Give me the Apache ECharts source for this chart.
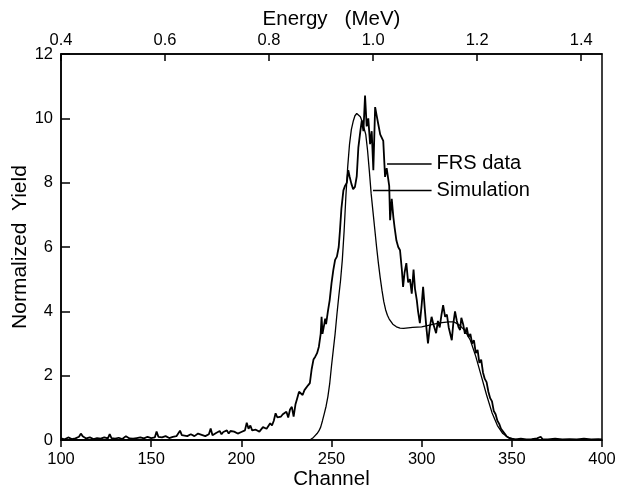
<!DOCTYPE html>
<html>
<head>
<meta charset="utf-8">
<script src="https://cdn.jsdelivr.net/npm/echarts@6/dist/echarts.min.js"></script>
<style>
html,body{margin:0;padding:0;background:#fff;}
#chart{width:619px;height:489px;}
</style>
</head>
<body>
<div id="chart"></div>
<script>
// ---- Data ----
var frsChannel = [100,102,104,106,108,110,111,112,114,116,118,120,122,124,126,127,128,130,132,134,136,137,138,140,142,144,146,148,150,152,153,154,156,158,160,162,164,166,167,168,170,172,174,176,177,178,180,182,183,184,186,188,189,190,192,193,194,196,197,198,200,202,203,204,205,206,208,210,212,214,216,217,218,219,220,222,223,225,226,227,228,229,230,231,232,233,234,235,236,237,238,239,240,241,242,243,244,244.5,245,246,246.5,247,248,249,250,251,252,253,254,254.7,255.5,256.6,257.5,258.5,259.3,260,261,262,263,264,264.9,266,266.8,267.7,268.6,269.5,270.4,271.4,272.3,273.2,274.2,275,276,277,277.8,278.7,279.7,280.6,281.6,282,282.5,283.4,284.3,285,286,287,288,289,289.7,290.5,291.5,292.5,293.5,294.5,295.5,296.3,297.3,298,299,300,300.8,301.7,302.6,303.5,304.5,305.5,306.5,308,309,310,311,311.9,313,314,315,316.7,317.5,318.5,319.5,320.5,321.3,322,323,324,325,326,327,328,329,330,331,332,333,334,335,336,337,338,339,340,341,342,343,344,345,346,347,348,349,350,352,355,358,361,364,366,367,370,374,378,382,386,390,394,398,400];
var frsYield = [0.05,0.02,0.08,0.03,0.05,0.1,0.2,0.12,0.05,0.08,0.03,0.06,0.04,0.08,0.05,0.18,0.06,0.04,0.07,0.03,0.12,0.18,0.05,0.04,0.06,0.08,0.05,0.1,0.06,0.08,0.26,0.1,0.08,0.12,0.06,0.1,0.12,0.29,0.15,0.1,0.12,0.18,0.12,0.2,0.14,0.16,0.12,0.18,0.36,0.15,0.22,0.28,0.18,0.25,0.3,0.2,0.28,0.26,0.32,0.2,0.25,0.3,0.54,0.35,0.45,0.3,0.32,0.26,0.4,0.35,0.52,0.45,0.6,0.83,0.7,0.73,0.8,0.88,0.7,0.95,1.03,0.73,1.1,1.3,1.5,1.45,1.4,1.55,1.6,1.7,1.77,2.2,2.5,2.59,2.7,2.9,3.3,3.83,3.3,3.6,3.77,3.6,4.0,4.35,4.87,5.28,5.6,5.7,6.0,6.52,7.2,7.76,7.9,8.0,8.39,8.2,7.97,7.8,7.87,8.2,9.1,9.6,9.94,9.6,10.71,9.75,10.0,9.2,9.6,8.39,10.35,10.1,9.8,9.5,9.55,9.3,8.18,8.45,8.39,7.9,6.83,7.5,6.93,6.6,6.2,6.0,5.9,5.3,4.76,5.2,5.5,4.9,5.0,4.55,5.3,4.7,4.35,4.0,3.63,4.2,4.76,4.1,3.5,3.0,3.5,3.83,3.6,3.32,3.7,3.5,3.9,4.19,3.83,3.9,3.5,3.1,3.6,4.0,3.7,3.5,3.42,3.8,3.6,3.3,3.5,3.2,3.3,3.0,3.1,2.7,2.8,2.4,2.5,2.1,1.9,1.8,1.5,1.3,1.2,0.9,0.8,0.6,0.5,0.35,0.3,0.2,0.12,0.08,0.05,0.03,0.02,0.04,0.02,0.03,0.05,0.1,0.03,0.02,0.04,0.02,0.03,0.02,0.04,0.02,0.03,0.02];

var simChannel = [100,150,200,238,239,240,241,242,243,244,245,246,247,248,249,250,251,252,253,254,255,256,257,258,259,260,261,262,263,264,265,266,267,268,269,270,271,272,273,274,275,276,277,278,279,280,281,282,284,286,288,290,295,300,305,310,315,318,321,324,327,330,333,336,339,342,345,348,351,354,370,400];
var simYield = [0,0,0,0,0.04,0.08,0.14,0.2,0.28,0.4,0.6,0.82,1.05,1.35,1.75,2.3,2.8,3.3,3.9,4.45,4.95,5.6,6.5,7.6,8.5,9.2,9.65,9.9,10.08,10.15,10.12,10.05,9.9,9.7,9.5,9.0,8.35,7.65,7.1,6.55,6.0,5.5,5.05,4.65,4.3,4.05,3.88,3.76,3.6,3.52,3.48,3.47,3.5,3.52,3.58,3.64,3.67,3.67,3.57,3.4,3.1,2.6,2.0,1.4,0.85,0.45,0.2,0.08,0.03,0,0,0];

var channelTicks = [100,150,200,250,300,350,400];
var energyTicks = [0.4,0.6,0.8,1.0,1.2,1.4];
var yieldTicks = [0,2,4,6,8,10,12];

// label leader lines (data coordinates: channel, yield)
var frsLeader = [[280.8, 8.6],[305.5, 8.6]];
var simLeader = [[273.0, 7.75],[305.5, 7.75]];
var frsLabel = 'FRS data';
var simLabel = 'Simulation';

function zip(a,b){ var r=[]; for(var i=0;i<a.length;i++) r.push([a[i],b[i]]); return r; }

var FONT = '"Liberation Sans", Arial, Helvetica, sans-serif';
var chart = echarts.init(document.getElementById('chart'), null, {renderer:'canvas'});
var axisCommon = {
  axisLine:{show:true, lineStyle:{color:'#000', width:1.5}},
  splitLine:{show:false},
  nameMoveOverlap:false,
  nameTextStyle:{color:'#000', fontSize:20.5, fontFamily:FONT}
};
function merge(a,b){ var o={}; for(var k in a) o[k]=a[k]; for(var k2 in b) o[k2]=b[k2]; return o; }

var option = {
  animation:false,
  backgroundColor:'#fff',
  grid:{left:61, right:17, top:54, bottom:49, containLabel:false, outerBoundsMode:'none',
        show:true, borderColor:'#000', borderWidth:1.5, backgroundColor:'transparent'},
  xAxis:[
    merge(axisCommon, {
      type:'value', position:'bottom', min:channelTicks[0], max:channelTicks[channelTicks.length-1], interval:50,
      name:'Channel', nameLocation:'middle', nameGap:29,
      axisTick:{show:true, inside:false, length:7, lineStyle:{color:'#000', width:1.5}},
      axisLabel:{color:'#000', fontSize:16.5, fontFamily:FONT, margin:11}
    }),
    merge(axisCommon, {
      type:'value', position:'top', min:energyTicks[0], max:1.44, interval:0.2,
      name:'Energy   (MeV)', nameLocation:'middle', nameGap:24,
      axisTick:{show:true, inside:true, length:7, lineStyle:{color:'#000', width:1.5}},
      axisLabel:{color:'#000', fontSize:16.5, fontFamily:FONT, margin:5, showMaxLabel:false,
        formatter:function(v){ return v.toFixed(1); }}
    })
  ],
  yAxis:[
    merge(axisCommon, {
      type:'value', min:yieldTicks[0], max:yieldTicks[yieldTicks.length-1], interval:2,
      name:'Normalized  Yield', nameLocation:'middle', nameGap:30,
      nameTextStyle:{color:'#000', fontSize:21, fontFamily:FONT},
      axisTick:{show:true, inside:true, length:9, lineStyle:{color:'#000', width:1.5}},
      axisLabel:{color:'#000', fontSize:16.5, fontFamily:FONT, margin:8}
    })
  ],
  series:[
    {
      name:'FRS data', type:'line', xAxisIndex:0, yAxisIndex:0,
      data: zip(frsChannel, frsYield), showSymbol:false, symbol:'none',
      lineStyle:{color:'#000', width:1.8}, z:3,
      markLine:{silent:true, symbol:['none','none'],
        lineStyle:{color:'#000', width:1.6, type:'solid'},
        label:{show:true, position:'end', formatter:frsLabel, color:'#000', fontSize:20, fontFamily:FONT, distance:5},
        data:[[{coord:frsLeader[0]},{coord:frsLeader[1]}]]}
    },
    {
      name:'Simulation', type:'line', xAxisIndex:0, yAxisIndex:0,
      data: zip(simChannel, simYield), showSymbol:false, symbol:'none',
      lineStyle:{color:'#000', width:1.3}, z:2,
      markLine:{silent:true, symbol:['none','none'],
        lineStyle:{color:'#000', width:1.4, type:'solid'},
        label:{show:true, position:'end', formatter:simLabel, color:'#000', fontSize:20, fontFamily:FONT, distance:5},
        data:[[{coord:simLeader[0]},{coord:simLeader[1]}]]}
    }
  ]
};
chart.setOption(option);
</script>
</body>
</html>
